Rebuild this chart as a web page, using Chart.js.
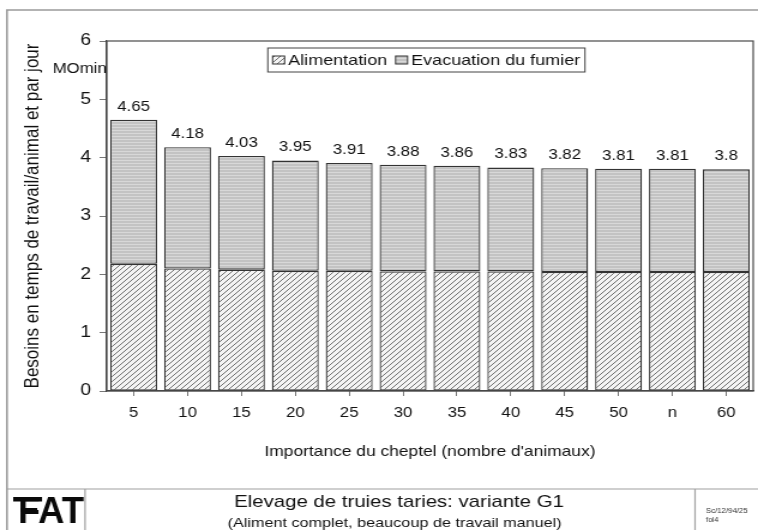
<!DOCTYPE html>
<html>
<head>
<meta charset="utf-8">
<script src="https://cdn.jsdelivr.net/npm/chart.js@4.4.1/dist/chart.umd.min.js"></script>
<style>
  html, body { margin: 0; padding: 0; background: #fff; overflow: hidden; }
  #wrap { width: 632px; height: 530px; transform: scaleX(1.19937); transform-origin: 0 0; }
  canvas { display: block; }
</style>
</head>
<body>
<div id="wrap"><canvas id="chart" width="632" height="530"></canvas></div>
<script>
// Herd sizes on the category axis
const herdSizes = ['5', '10', '15', '20', '25', '30', '35', '40', '45', '50', 'n', '60'];
// Total working time per animal and day (MOmin), printed above each bar
const totalTime = [4.65, 4.18, 4.03, 3.95, 3.91, 3.88, 3.86, 3.83, 3.82, 3.81, 3.81, 3.8];
// Feeding share (lower segment)
const feedingTime = [2.18, 2.10, 2.08, 2.06, 2.06, 2.05, 2.05, 2.05, 2.04, 2.04, 2.04, 2.04];
// Manure removal share (upper segment) = total minus feeding
const manureTime = totalTime.map((t, i) => Math.round((t - feedingTime[i]) * 100) / 100);
// Value axis ticks
const yTicks = [0, 1, 2, 3, 4, 5, 6];

const FONT = 'Liberation Sans, Arial, Helvetica, sans-serif';
const INK = '#111';

const canvas = document.getElementById('chart');
const ctx = canvas.getContext('2d');

// Diagonal hatching for the feeding segment
function makeHatch() {
  const s = 5;
  const c = document.createElement('canvas');
  c.width = s; c.height = s;
  const g = c.getContext('2d');
  g.fillStyle = '#f4f4f4';
  g.fillRect(0, 0, s, s);
  g.strokeStyle = '#707070';
  g.lineWidth = 1;
  g.beginPath();
  g.moveTo(-1, s + 1); g.lineTo(s + 1, -1);
  g.moveTo(-1, 1); g.lineTo(1, -1);
  g.moveTo(s - 1, s + 1); g.lineTo(s + 1, s - 1);
  g.stroke();
  return ctx.createPattern(c, 'repeat');
}

// Fine horizontal ruling for the manure segment
function makeRuling() {
  const c = document.createElement('canvas');
  c.width = 6; c.height = 3;
  const g = c.getContext('2d');
  g.fillStyle = '#c3c3c3';
  g.fillRect(0, 0, 6, 3);
  g.fillStyle = '#d8d8d8';
  g.fillRect(0, 1, 6, 1);
  return ctx.createPattern(c, 'repeat');
}

const hatch = makeHatch();
const ruling = makeRuling();

const legendItems = [
  { text: 'Alimentation', fill: hatch },
  { text: 'Evacuation du fumier', fill: ruling }
];

// Page frame, footer block and logo
const pagePlugin = {
  id: 'page',
  beforeDraw(chart) {
    const c = chart.ctx;
    c.save();
    c.fillStyle = '#fff';
    c.fillRect(0, 0, chart.width, chart.height);

    c.strokeStyle = '#9a9a9a';
    c.lineWidth = 1.6;
    c.beginPath();
    c.moveTo(5.8, 530); c.lineTo(5.8, 10); c.lineTo(632, 10);
    c.stroke();

    c.lineWidth = 1.2;
    c.strokeStyle = '#a0a0a0';
    c.beginPath();
    c.moveTo(5.8, 489); c.lineTo(632, 489);
    c.moveTo(70.9, 489); c.lineTo(70.9, 530);
    c.moveTo(579.5, 489); c.lineTo(579.5, 530);
    c.stroke();

    // Logo
    c.fillStyle = '#0a0a0a';
    c.save();
    c.translate(15, 523);
    c.scale(0.82, 1);
    c.font = 'bold 37px ' + FONT;
    c.textBaseline = 'alphabetic';
    c.textAlign = 'left';
    c.fillText('FAT', 0, 0);
    c.restore();
    c.fillRect(11, 497, 24, 4.5);
    c.fillRect(17, 508, 14, 4);

    // Footer titles
    c.fillStyle = INK;
    c.textAlign = 'center';
    c.textBaseline = 'middle';
    c.font = '17px ' + FONT;
    c.fillText('Elevage de truies taries: variante G1', 332.7, 502);
    c.font = '13.5px ' + FONT;
    c.fillText('(Aliment complet, beaucoup de travail manuel)', 329, 523);

    c.textAlign = 'left';
    c.font = '6.5px ' + FONT;
    c.fillStyle = '#333';
    c.fillText('Sc/12/94/25', 588.6, 511);
    c.fillText('fol4', 588.6, 520);
    c.restore();
  }
};

// Plot frame, value labels, unit and legend
const overlayPlugin = {
  id: 'overlay',
  afterDatasetsDraw(chart) {
    const c = chart.ctx;
    const a = chart.chartArea;
    c.save();
    c.strokeStyle = '#4a4a4a';
    c.lineWidth = 1.2;
    c.strokeRect(a.left, a.top, a.right - a.left, a.bottom - a.top);

    // Totals above each stack
    const topMeta = chart.getDatasetMeta(1);
    c.fillStyle = INK;
    c.font = '14px ' + FONT;
    c.textAlign = 'center';
    c.textBaseline = 'bottom';
    topMeta.data.forEach((bar, i) => {
      const y = chart.scales.y.getPixelForValue(totalTime[i]);
      c.fillText(String(totalTime[i]), bar.x, y - 6);
    });

    // Unit
    c.font = '14px ' + FONT;
    c.textAlign = 'right';
    c.textBaseline = 'middle';
    c.fillText('MOmin', a.left, 69);

    // Legend
    c.font = '15px ' + FONT;
    const sw = 10, sh = 8, gapBox = 3, gapItem = 7, pad = 4;
    const widths = legendItems.map(it => sw + gapBox + c.measureText(it.text).width);
    const inner = widths.reduce((s, w) => s + w, 0) + gapItem * (legendItems.length - 1);
    const boxW = inner + pad * 2;
    const cx = (a.left + a.right) / 2 - 3;
    const bx = cx - boxW / 2, by = 48, bh = 24;
    c.fillStyle = '#fff';
    c.fillRect(bx, by, boxW, bh);
    c.strokeStyle = '#444';
    c.lineWidth = 1;
    c.strokeRect(bx, by, boxW, bh);
    let x = bx + pad;
    const midY = by + bh / 2;
    legendItems.forEach((it, i) => {
      c.fillStyle = it.fill;
      c.fillRect(x, midY - sh / 2, sw, sh);
      c.strokeStyle = '#333';
      c.strokeRect(x, midY - sh / 2, sw, sh);
      c.fillStyle = INK;
      c.textAlign = 'left';
      c.textBaseline = 'middle';
      c.fillText(it.text, x + sw + gapBox, midY + 1);
      x += widths[i] + gapItem;
    });
    c.restore();
  }
};

new Chart(ctx, {
  type: 'bar',
  data: {
    labels: herdSizes,
    datasets: [
      {
        label: 'Alimentation',
        data: feedingTime,
        backgroundColor: hatch,
        borderColor: '#333',
        borderWidth: 1.3,
        borderSkipped: false,
        barPercentage: 0.87,
        categoryPercentage: 1
      },
      {
        label: 'Evacuation du fumier',
        data: manureTime,
        backgroundColor: ruling,
        borderColor: '#333',
        borderWidth: 1.3,
        borderSkipped: false,
        barPercentage: 0.87,
        categoryPercentage: 1
      }
    ]
  },
  options: {
    responsive: false,
    animation: false,
    devicePixelRatio: 1,
    layout: { padding: { top: 41, left: 0, right: 4, bottom: 60 } },
    plugins: {
      legend: { display: false },
      tooltip: { enabled: false }
    },
    scales: {
      x: {
        stacked: true,
        grid: { offset: false, drawOnChartArea: false, drawTicks: true, tickLength: 5, color: '#777' },
        border: { display: true, color: '#444', width: 1.2 },
        ticks: { color: INK, font: { family: FONT, size: 14 }, padding: 9, maxRotation: 0 },
        title: {
          display: true,
          text: "Importance du cheptel (nombre d'animaux)",
          color: INK,
          font: { family: FONT, size: 14.5 },
          padding: { top: 0, bottom: 9 }
        },
        afterFit(scale) { scale.height = 79; }
      },
      y: {
        stacked: true,
        min: 0,
        max: 6,
        afterBuildTicks(scale) { scale.ticks = yTicks.map(v => ({ value: v })); },
        grid: { drawOnChartArea: false, drawTicks: true, tickLength: 6, color: '#777' },
        border: { display: true, color: '#444', width: 1.2 },
        ticks: { color: INK, font: { family: FONT, size: 16 }, padding: 7 },
        title: {
          display: true,
          text: 'Besoins en temps de travail/animal et par jour',
          color: INK,
          font: { family: FONT, size: 17 },
          padding: { top: 17, bottom: 0 }
        },
        afterFit(scale) { scale.width = 89; }
      }
    }
  },
  plugins: [pagePlugin, overlayPlugin]
});
</script>
</body>
</html>
